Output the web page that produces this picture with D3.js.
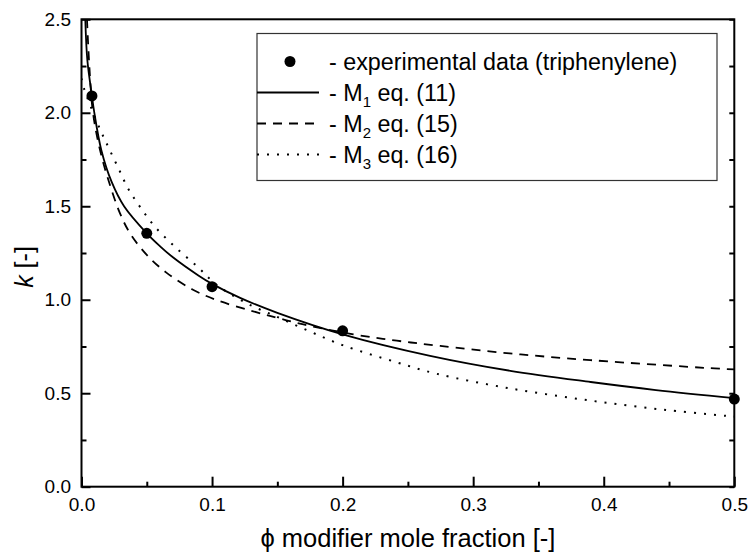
<!DOCTYPE html>
<html>
<head>
<meta charset="utf-8">
<script src="https://cdn.jsdelivr.net/npm/d3@7"></script>
<style>
  html, body { margin: 0; padding: 0; background: #fff; }
  svg { display: block; }
  text { font-family: "Liberation Sans", Arial, sans-serif; fill: #000; }
</style>
</head>
<body>
<svg id="chart" width="749" height="555"></svg>
<script>
// ---------- data ----------
const expPhi = [0.008, 0.05, 0.1, 0.2, 0.5];
const expK   = [2.09, 1.355, 1.07, 0.834, 0.469];

const m1Phi = [0.0029, 0.0045, 0.008, 0.0096, 0.0152, 0.0231, 0.0326, 0.05, 0.06, 0.07, 0.0895, 0.1, 0.1215, 0.15, 0.2, 0.267, 0.3284, 0.39, 0.44, 0.5];
const m1K   = [2.50,   2.28,   2.09,  2.01,   1.80,   1.63,   1.50,   1.355, 1.287, 1.227, 1.130, 1.085, 1.010, 0.930, 0.815, 0.700, 0.620, 0.560, 0.517, 0.474];

const m2Phi = [0.0042, 0.006, 0.0088, 0.0142, 0.0206, 0.0295, 0.0372, 0.05, 0.065, 0.085, 0.1036, 0.129, 0.15, 0.17, 0.2083, 0.2415, 0.2747, 0.328, 0.3897, 0.4816, 0.5];
const m2K   = [2.50,   2.25,  2.00,   1.80,   1.64,   1.462,  1.355,  1.240, 1.145, 1.055, 0.998, 0.943, 0.903, 0.868, 0.815, 0.781, 0.753, 0.713, 0.677, 0.634, 0.627];

const m3Phi = [0, 0.0019, 0.0139, 0.021, 0.0285, 0.0356, 0.0448, 0.0563, 0.0716, 0.0895, 0.1036, 0.1266, 0.1496, 0.175, 0.2, 0.2415, 0.272, 0.328, 0.3885, 0.448, 0.5];
const m3K   = [2.184, 2.13, 1.917, 1.81, 1.70, 1.596, 1.497, 1.39, 1.283, 1.172, 1.079, 0.981, 0.909, 0.83, 0.757, 0.665, 0.604, 0.526, 0.462, 0.41, 0.375];

const xMajor = [0, 0.1, 0.2, 0.3, 0.4, 0.5];
const xMinor = [0.05, 0.15, 0.25, 0.35, 0.45];
const yMajor = [0, 0.5, 1.0, 1.5, 2.0, 2.5];
const yMinor = [0.25, 0.75, 1.25, 1.75, 2.25];

const legendLabels = [
  {pre: "- experimental data (triphenylene)", sub: null, post: ""},
  {pre: "- M", sub: "1", post: " eq. (11)"},
  {pre: "- M", sub: "2", post: " eq. (15)"},
  {pre: "- M", sub: "3", post: " eq. (16)"}
];
const xTitle = "\u03D5 modifier mole fraction [-]";

// ---------- layout ----------
const L = 81.5, R = 734.3, T = 19.3, B = 486.7;
const svg = d3.select("#chart");
const x = d3.scaleLinear().domain([0, 0.5]).range([L, R]);
const y = d3.scaleLinear().domain([0, 2.5]).range([B, T]);

svg.append("defs").append("clipPath").attr("id", "plotclip")
  .append("rect").attr("x", L).attr("y", T).attr("width", R - L).attr("height", B - T);

// curves
const line = d3.line().x(d => x(d[0])).y(d => y(d[1])).curve(d3.curveCatmullRom.alpha(0.5));
const curves = svg.append("g").attr("clip-path", "url(#plotclip)");
function addCurve(px, ky, dash) {
  curves.append("path")
    .datum(px.map((p, i) => [p, ky[i]]))
    .attr("d", line)
    .attr("fill", "none")
    .attr("stroke", "#000")
    .attr("stroke-width", dash === "dot" ? 2 : 1.8)
    .attr("stroke-dasharray", dash === "dash" ? "9,7" : dash === "dot" ? "2,8" : null);
}
addCurve(m1Phi, m1K, null);
addCurve(m2Phi, m2K, "dash");
addCurve(m3Phi, m3K, "dot");

// frame
svg.append("rect").attr("x", L).attr("y", T).attr("width", R - L).attr("height", B - T)
  .attr("fill", "none").attr("stroke", "#000").attr("stroke-width", 2);

// axes
const fmt = d3.format(".1f");
const gx = svg.append("g").attr("transform", `translate(0,${B})`)
  .call(d3.axisBottom(x).tickValues(xMajor).tickSize(-10).tickPadding(11).tickFormat(fmt));
const gxm = svg.append("g").attr("transform", `translate(0,${B})`)
  .call(d3.axisBottom(x).tickValues(xMinor).tickSize(-5).tickFormat(""));
const gy = svg.append("g").attr("transform", `translate(${L},0)`)
  .call(d3.axisLeft(y).tickValues(yMajor).tickSize(-9).tickPadding(10.5).tickFormat(fmt));
const gym = svg.append("g").attr("transform", `translate(${L},0)`)
  .call(d3.axisLeft(y).tickValues(yMinor).tickSize(-5).tickFormat(""));
const gyr = svg.append("g").attr("transform", `translate(${R},0)`)
  .call(d3.axisRight(y).tickValues(yMajor.concat(yMinor)).tickSize(-5).tickFormat(""));
[gx, gxm, gy, gym, gyr].forEach(g => {
  g.select(".domain").remove();
  g.selectAll("line").attr("stroke", "#000").attr("stroke-width", 2);
  g.selectAll("text").attr("font-family", "Liberation Sans, Arial, sans-serif").attr("font-size", 19).attr("fill", "#000");
});

// points
svg.append("g").selectAll("circle")
  .data(expPhi.map((p, i) => [p, expK[i]]))
  .join("circle")
  .attr("cx", d => x(d[0])).attr("cy", d => y(d[1])).attr("r", 5.5).attr("fill", "#000");

// axis titles
svg.append("text").attr("x", (L + R) / 2).attr("y", 547)
  .attr("text-anchor", "middle").attr("font-size", 25.5).text(xTitle);
const yt = svg.append("text").attr("transform", `translate(33,267) rotate(-90)`)
  .attr("text-anchor", "middle").attr("font-size", 25);
yt.append("tspan").attr("font-style", "italic").text("k");
yt.append("tspan").text(" [-]");

// legend
const lg = svg.append("g");
lg.append("rect").attr("x", 257).attr("y", 33.5).attr("width", 460).attr("height", 147)
  .attr("fill", "#fff").attr("stroke", "#333").attr("stroke-width", 1.2);
const rowY = [61.5, 92.5, 123.5, 154.5];
lg.append("circle").attr("cx", 290).attr("cy", rowY[0]).attr("r", 5.5).attr("fill", "#000");
const styles = [null, "solid", "dash", "dot"];
for (let i = 1; i < 4; i++) {
  lg.append("line").attr("x1", 257).attr("x2", 319).attr("y1", rowY[i]).attr("y2", rowY[i])
    .attr("stroke", "#000").attr("stroke-width", styles[i] === "dot" ? 2 : 1.8)
    .attr("stroke-dasharray", styles[i] === "dash" ? "9,7" : styles[i] === "dot" ? "2,8" : null);
}
legendLabels.forEach((lab, i) => {
  const t = lg.append("text").attr("x", 329).attr("y", rowY[i] + 8).attr("font-size", 23.3);
  t.append("tspan").text(lab.pre);
  if (lab.sub) {
    t.append("tspan").attr("font-size", 15).attr("dy", 6).text(lab.sub);
    t.append("tspan").attr("dy", -6).text(lab.post);
  }
});
</script>
</body>
</html>
